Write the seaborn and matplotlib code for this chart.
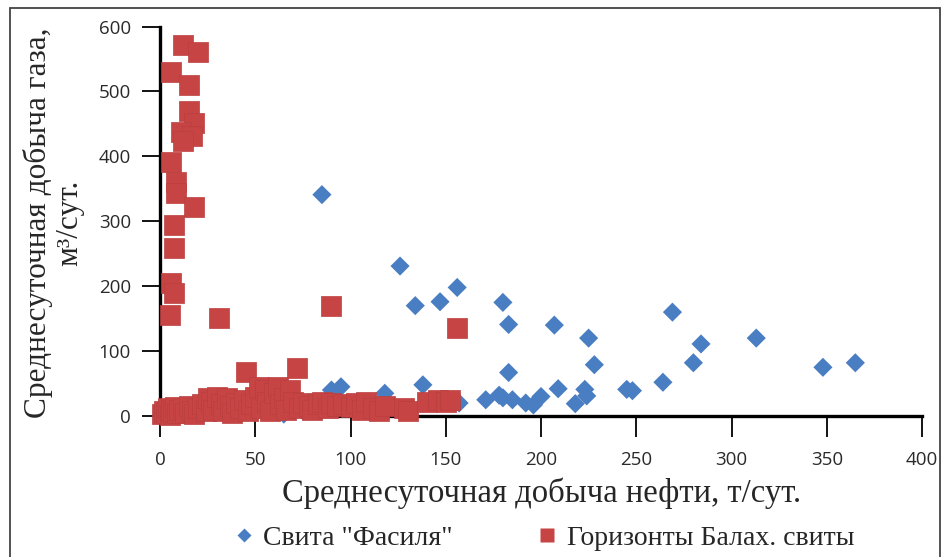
import matplotlib
matplotlib.use("Agg")
import matplotlib.pyplot as plt
import seaborn as sns
import pandas as pd
from matplotlib.lines import Line2D
from matplotlib.patches import Rectangle

# ---------------- data ----------------
fasilya_oil = [85, 126, 134, 147, 156, 180, 183, 207, 225, 269, 284, 313, 280, 228,
               348, 365, 183, 264, 209, 223, 245, 248, 224, 218, 180, 185, 192, 196,
               200, 171, 178, 157, 138, 118, 90, 95, 65, 75, 115, 100]
fasilya_gas = [341, 231, 170, 176, 198, 175, 141, 140, 120, 160, 111, 120, 82, 79,
               75, 82, 67, 52, 42, 41, 41, 39, 31, 19, 28, 25, 20, 17,
               30, 25, 32, 20, 48, 35, 40, 45, 3, 8, 20, 18]

balakh_oil = [12, 20, 6, 15, 15, 18, 11, 17, 12, 6, 8.5, 8.5, 18, 7.6, 7.6, 6, 7.6, 5.3,
              31, 90, 156,
              1, 2, 3, 4, 5, 6, 7, 8, 9, 10, 12, 13, 15, 17, 18, 20, 22, 24, 25, 27,
              28, 30, 32, 33, 35, 37, 38, 40, 42, 44, 45, 46, 48, 50, 52, 53, 55, 56,
              58, 60, 62, 63, 65, 66, 68, 70, 72, 73, 75, 78, 80, 83, 85, 88, 90, 93,
              96, 100, 103, 106, 108, 112, 115, 118, 128, 130, 140, 146, 150, 152]
balakh_gas = [571, 560, 530, 510, 470, 452, 437, 432, 424, 391, 360, 344, 322, 294, 259, 205, 190, 156,
              151, 170, 135,
              3, 8, 5, 12, 2, 10, 6, 14, 4, 9, 12, 5, 15, 8, 3, 12, 18, 7, 28, 22,
              10, 30, 18, 8, 28, 15, 5, 20, 12, 25, 68, 8, 18, 30, 45, 12, 40, 22,
              8, 35, 45, 18, 28, 10, 40, 22, 74, 12, 20, 15, 10, 18, 22, 12, 20, 15,
              18, 14, 20, 10, 22, 12, 8, 15, 12, 8, 22, 25, 22, 25]

x_ticks = [0, 50, 100, 150, 200, 250, 300, 350, 400]
y_ticks = [0, 100, 200, 300, 400, 500, 600]

label_fasilya = 'Свита "Фасиля"'
label_balakh = "Горизонты Балах. свиты"
xlabel = "Среднесуточная добыча нефти, т/сут."
ylabel = "Среднесуточная добыча газа,\nм³/сут."

BLUE = "#4A7EC2"
RED = "#C64444"

df_f = pd.DataFrame({"oil": fasilya_oil, "gas": fasilya_gas})
df_b = pd.DataFrame({"oil": balakh_oil, "gas": balakh_gas})

# ---------------- figure ----------------
sns.set_style("ticks")
plt.rcParams["font.family"] = ["Open Sans", "DejaVu Sans"]

W, H = 946, 557
fig = plt.figure(figsize=(W / 100, H / 100), dpi=100)
ax = fig.add_axes([160 / W, 1 - 416 / H, (922 - 160) / W, (416 - 26.5) / H])

sns.scatterplot(data=df_f, x="oil", y="gas", ax=ax, marker="D", s=95,
                color=BLUE, edgecolor="none", zorder=3, clip_on=False, legend=False)
sns.scatterplot(data=df_b, x="oil", y="gas", ax=ax, marker="s", s=200,
                color=RED, edgecolor="#BB3E3E", linewidth=0.5, zorder=4,
                clip_on=False, legend=False)

ax.set_xlim(0, 400)
ax.set_ylim(0, 600)
ax.set_xticks(x_ticks)
ax.set_yticks(y_ticks)
ax.set_xlabel("")
ax.set_ylabel("")
sns.despine(ax=ax)
for side in ["left", "bottom"]:
    ax.spines[side].set_linewidth(2.4)
    ax.spines[side].set_color("black")
    ax.spines[side].set_zorder(2)
ax.tick_params(axis="x", direction="out", length=15, width=1.3, pad=10,
               labelsize=13.5, colors="black", labelcolor="#2a2a2a")
ax.tick_params(axis="y", direction="out", length=13, width=1.3, pad=8,
               labelsize=13.5, colors="black", labelcolor="#2a2a2a")
ax.grid(False)

serif = ["Liberation Serif", "DejaVu Serif"]
fig.text(54 / W, 1 - 223 / H, ylabel, rotation=90, ha="center", va="center",
         multialignment="center", fontsize=22.5, family=serif, linespacing=1.1)
fig.text(542 / W, 1 - 493 / H, xlabel, ha="center", va="center",
         fontsize=23.5, family=serif)

handles = [
    Line2D([], [], marker="D", linestyle="none", color=BLUE, markersize=7,
           markeredgecolor="none"),
    Line2D([], [], marker="s", linestyle="none", color=RED, markersize=10,
           markeredgecolor="none"),
]
fig.legend(handles, [label_fasilya, label_balakh], loc="center",
           bbox_to_anchor=(542 / W, 1 - 538 / H), ncol=2, frameon=False,
           prop={"family": serif, "size": 20}, handletextpad=0.2,
           columnspacing=2.9, handlelength=1.0)

# outer border of chart area
fig.patches.append(Rectangle((10 / W, -0.05), (940 - 10) / W, 1.05 - 8 / H,
                             transform=fig.transFigure, fill=False,
                             edgecolor="#444444", linewidth=1.3))

fig.savefig("out.png", dpi=100, facecolor="white")
